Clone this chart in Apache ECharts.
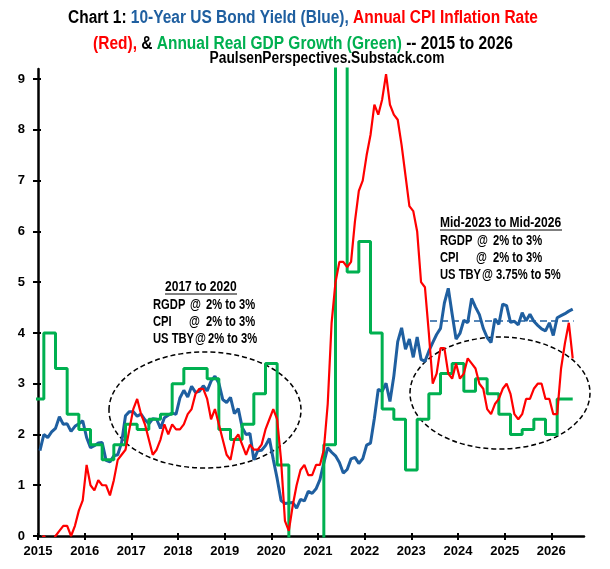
<!DOCTYPE html>
<html>
<head>
<meta charset="utf-8">
<script src="https://cdn.jsdelivr.net/npm/echarts@6/dist/echarts.min.js"></script>
<style>
  html, body { margin: 0; padding: 0; background: #fff; }
  #chart { width: 610px; height: 569px; }
</style>
</head>
<body>
<div id="chart"></div>
<script>
var FONT = '"Liberation Sans", Arial, sans-serif'
var BLUE = '#1F5FA0'
var RED = '#FF0000'
var GREEN = '#00B050'

// x ticks / y ticks
var yearTicks = [2015, 2016, 2017, 2018, 2019, 2020, 2021, 2022, 2023, 2024, 2025, 2026]
var valueTicks = [0, 1, 2, 3, 4, 5, 6, 7, 8, 9]

// monthly data, Jan 2015 -> Jun 2026
var firstYear = 2015
var bondYield = [
  1.68, 2.00, 1.94, 2.05, 2.12, 2.35, 2.20, 2.21, 2.06, 2.16, 2.21, 2.27,
  1.94, 1.74, 1.78, 1.83, 1.84, 1.49, 1.46, 1.58, 1.60, 1.84, 2.37, 2.45,
  2.45, 2.36, 2.40, 2.29, 2.21, 2.31, 2.30, 2.12, 2.33, 2.38, 2.42, 2.40,
  2.72, 2.87, 2.74, 2.95, 2.83, 2.85, 2.96, 2.86, 3.05, 3.15, 3.01, 2.69,
  2.63, 2.73, 2.41, 2.51, 2.14, 2.00, 2.02, 1.50, 1.68, 1.69, 1.78, 1.92,
  1.51, 1.13, 0.70, 0.64, 0.65, 0.66, 0.55, 0.72, 0.69, 0.88, 0.84, 0.93,
  1.11, 1.44, 1.74, 1.65, 1.58, 1.45, 1.24, 1.31, 1.52, 1.55, 1.43, 1.52,
  1.79, 1.83, 2.32, 2.89, 2.85, 3.01, 2.65, 3.15, 3.83, 4.10, 3.68, 3.88,
  3.52, 3.92, 3.48, 3.44, 3.64, 3.81, 3.97, 4.09, 4.59, 4.88, 4.37, 3.88,
  3.99, 4.25, 4.20, 4.68, 4.51, 4.36, 4.09, 3.91, 3.81, 4.28, 4.17, 4.57,
  4.54, 4.21, 4.23, 4.16, 4.40, 4.24, 4.37, 4.23, 4.15, 4.08, 4.04, 4.20,
  3.95, 4.30, 4.34, 4.38, 4.43, 4.47
]
var cpiRate = [
  -0.1, 0.0, -0.1, -0.2, 0.0, 0.1, 0.2, 0.2, 0.0, 0.2, 0.5, 0.7,
  1.4, 1.0, 0.9, 1.1, 1.0, 1.0, 0.8, 1.1, 1.5, 1.6, 1.7, 2.1,
  2.5, 2.7, 2.4, 2.2, 1.9, 1.6, 1.7, 1.9, 2.2, 2.0, 2.2, 2.1,
  2.1, 2.2, 2.4, 2.5, 2.8, 2.9, 2.9, 2.7, 2.3, 2.5, 2.2, 1.9,
  1.6, 1.5, 1.9, 2.0, 1.8, 1.6, 1.8, 1.7, 1.7, 1.8, 2.1, 2.3,
  2.5, 2.3, 1.5, 0.3, 0.1, 0.6, 1.0, 1.3, 1.4, 1.2, 1.2, 1.4,
  1.4, 1.7, 2.6, 4.2, 5.0, 5.4, 5.4, 5.3, 5.4, 6.2, 6.8, 7.0,
  7.5, 7.9, 8.5, 8.3, 8.6, 9.1, 8.5, 8.3, 8.2, 7.7, 7.1, 6.5,
  6.4, 6.0, 5.0, 4.9, 4.0, 3.0, 3.2, 3.7, 3.7, 3.2, 3.1, 3.4,
  3.1, 3.2, 3.5, 3.4, 3.3, 3.0, 2.9, 2.5, 2.4, 2.6, 2.7, 2.9,
  3.0, 2.8, 2.4, 2.3, 2.4, 2.7, 2.7, 2.9, 3.0, 3.0, 2.7, 2.7,
  2.4, 2.4, 3.3, 3.8, 4.2, 3.5
]

// quarterly real gdp yoy, Q4 2014 -> Q2 2026
var gdpFirstYear = 2014
var gdpFirstQuarter = 4
var gdpGrowth = [
  2.7,
  4.0, 3.3, 2.4, 2.1,
  1.8, 1.5, 1.8, 2.2,
  2.1, 2.3, 2.4, 3.0,
  3.3, 3.3, 3.1, 2.1,
  1.9, 2.2, 2.8, 3.4,
  1.4, -9.0, -2.9, -1.1,
  1.8, 12.2, 5.2, 5.8,
  4.0, 2.5, 2.3, 1.3,
  2.3, 2.8, 3.2, 3.4,
  2.85, 3.1, 2.8, 2.4,
  2.0, 2.1, 2.3, 2.0,
  2.7, 2.7
]

// 3.75%-5% band guide
var tbyGuideFrom = 2023.4
var tbyGuideTo = 2026.48
var tbyGuideLevel = 4.25

// month -> decimal year (mid month)
function monthX(i) {
  return firstYear + (i + 0.5) / 12
}
var blueData = bondYield.map(function (v, i) { return [monthX(i), v] })
var redData = cpiRate.map(function (v, i) { return [monthX(i), v] })
var greenData = gdpGrowth.map(function (v, i) {
  var q = gdpFirstQuarter - 1 + i
  return [gdpFirstYear + (q * 3 + 1.5) / 12, v]
})
// hold the last quarter to the end of the monthly data
greenData.push([monthX(bondYield.length - 1), gdpGrowth[gdpGrowth.length - 1]])

var myChart = echarts.init(document.getElementById('chart'))

// text squeezed sideways a bit (the original font is narrow)
function txt(x, y, text, opts) {
  opts = opts || {}
  return {
    type: 'text',
    silent: true,
    x: x,
    y: y,
    scaleX: opts.scale || 0.8,
    style: {
      x: 0, y: 0, text: text,
      fill: opts.color || '#000',
      font: 'bold ' + (opts.size || 14) + 'px ' + FONT,
      align: opts.align || 'left',
      verticalAlign: 'middle'
    }
  }
}

// annotation block: header + 3 lines
function noteBlock(x0, y0, header, underlineW, headerX, lines) {
  var els = []
  els.push(txt(headerX, y0, header, { scale: 0.86 }))
  els.push({
    type: 'line', silent: true,
    shape: { x1: headerX, y1: y0 + 7, x2: headerX + underlineW, y2: y0 + 7 },
    style: { stroke: '#000', lineWidth: 1 }
  })
  lines.forEach(function (ln, i) {
    var y = y0 + 18 + i * 17
    els.push(txt(x0, y, ln[0]))
    els.push(txt(x0 + ln[1], y, '@'))
    els.push(txt(x0 + ln[2], y, ln[3]))
  })
  return els
}

// zrender rich tokens take fill, not color
function tok(c) {
  return { fill: c, fontWeight: 'bold', fontSize: 18, fontFamily: FONT }
}
var titleRich = { k: tok('#000'), b: tok(BLUE), r: tok(RED), g: tok(GREEN) }

var graphics = [
  {
    type: 'text', silent: true, x: 303, y: 18, scaleX: 0.86,
    style: {
      x: 0, y: 0, align: 'center', verticalAlign: 'middle',
      text: '{k|Chart 1: }{b|10-Year US Bond Yield (Blue),}{r| Annual CPI Inflation Rate}',
      rich: titleRich
    }
  },
  {
    type: 'text', silent: true, x: 303, y: 44, scaleX: 0.86,
    style: {
      x: 0, y: 0, align: 'center', verticalAlign: 'middle',
      text: '{r|(Red),}{k| & }{g|Annual Real GDP Growth (Green)}{k| -- 2015 to 2026}',
      rich: titleRich
    }
  },
  txt(327, 59, 'PaulsenPerspectives.Substack.com', { size: 16, align: 'center', scale: 0.86 }),
  {
    type: 'ellipse', silent: true,
    shape: { cx: 205, cy: 410, rx: 96, ry: 58 },
    style: { fill: 'none', stroke: '#000', lineWidth: 1.5, lineDash: [5, 3] }
  },
  {
    type: 'ellipse', silent: true,
    shape: { cx: 500, cy: 393, rx: 90, ry: 56 },
    style: { fill: 'none', stroke: '#000', lineWidth: 1.5, lineDash: [5, 3] }
  }
]
graphics = graphics.concat(noteBlock(153, 287, '2017 to 2020', 72, 165, [
  ['RGDP', 37, 53, '2% to 3%'],
  ['CPI', 36, 53, '2% to 3%'],
  ['US TBY', 42, 55, '2% to 3%']
]))
graphics = graphics.concat(noteBlock(440, 223, 'Mid-2023 to Mid-2026', 122, 440, [
  ['RGDP', 37, 53, '2% to 3%'],
  ['CPI', 36, 53, '2% to 3%'],
  ['US TBY', 42, 56, '3.75% to 5%']
]))

var labelStyle = {
  color: '#000',
  fontWeight: 'bold',
  fontSize: 13,
  fontFamily: FONT
}

var option = {
  animation: false,
  backgroundColor: '#fff',
  grid: {
    left: 38,
    right: 26,
    top: 69,
    bottom: 33,
    containLabel: false,
    outerBoundsMode: 'none'
  },
  xAxis: [
    {
      type: 'value',
      position: 'bottom',
      min: 2015,
      max: 2026.7,
      interval: 1,
      axisLine: { onZero: false, lineStyle: { color: '#000', width: 2.5 } },
      axisTick: { length: 4, customValues: yearTicks, lineStyle: { color: '#000', width: 2 } },
      axisLabel: Object.assign({
        margin: 9,
        customValues: yearTicks,
        formatter: function (v) { return v % 1 === 0 ? String(v) : '' }
      }, labelStyle),
      splitLine: { show: false }
    },
    {
      type: 'value',
      position: 'bottom',
      min: 2015,
      max: 2026.7,
      interval: 1,
      axisLine: { show: false, onZero: false },
      axisTick: { inside: true, length: 3, customValues: yearTicks, lineStyle: { color: '#000', width: 2 } },
      axisLabel: { show: false },
      splitLine: { show: false }
    }
  ],
  yAxis: [
    {
      type: 'value',
      position: 'left',
      min: 0,
      max: 9.2,
      interval: 1,
      axisLine: { show: true, onZero: false, lineStyle: { color: '#000', width: 2.5 } },
      axisTick: { show: true, length: 5, customValues: valueTicks, lineStyle: { color: '#000', width: 2 } },
      axisLabel: Object.assign({
        margin: 13,
        customValues: valueTicks,
        formatter: function (v) { return v % 1 === 0 ? String(v) : '' }
      }, labelStyle),
      splitLine: { show: false }
    },
    {
      type: 'value',
      position: 'left',
      min: 0,
      max: 9.2,
      interval: 1,
      axisLine: { show: false, onZero: false },
      axisTick: { show: true, inside: true, length: 3, customValues: valueTicks, lineStyle: { color: '#000', width: 2 } },
      axisLabel: { show: false },
      splitLine: { show: false }
    }
  ],
  series: [
    {
      name: '10-Year US Bond Yield',
      type: 'line',
      data: blueData,
      showSymbol: false,
      clip: true,
      lineStyle: { color: BLUE, width: 3 },
      itemStyle: { color: BLUE },
      markLine: {
        silent: true,
        symbol: ['none', 'none'],
        label: { show: false },
        lineStyle: { color: BLUE, width: 1.5, type: [7, 4] },
        data: [[{ coord: [tbyGuideFrom, tbyGuideLevel] }, { coord: [tbyGuideTo, tbyGuideLevel] }]]
      }
    },
    {
      name: 'Annual Real GDP Growth',
      type: 'line',
      data: greenData,
      step: 'end',
      showSymbol: false,
      clip: true,
      lineStyle: { color: GREEN, width: 3 },
      itemStyle: { color: GREEN }
    },
    {
      name: 'Annual CPI Inflation Rate',
      type: 'line',
      data: redData,
      showSymbol: false,
      clip: true,
      lineStyle: { color: RED, width: 2.2 },
      itemStyle: { color: RED }
    }
  ],
  graphic: graphics
}

myChart.setOption(option)
</script>
</body>
</html>
